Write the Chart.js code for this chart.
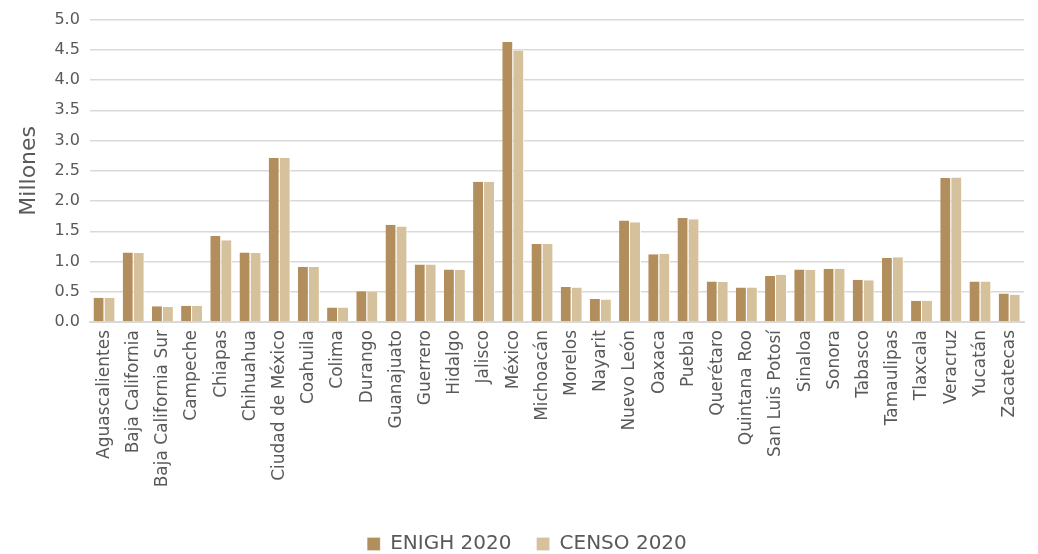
<!DOCTYPE html>
<html>
<head>
<meta charset="utf-8">
<script src="https://cdn.jsdelivr.net/npm/chart.js@4.4.0/dist/chart.umd.min.js"></script>
<style>
  html, body { margin: 0; padding: 0; background: #fff; }
  #wrap { width: 1038px; height: 554px; }
</style>
</head>
<body>
<div id="wrap"><canvas id="myChart"></canvas></div>
<script>
// hogares por entidad, millones
const estados = ['Aguascalientes', 'Baja California', 'Baja California Sur', 'Campeche', 'Chiapas',
  'Chihuahua', 'Ciudad de México', 'Coahuila', 'Colima', 'Durango', 'Guanajuato', 'Guerrero',
  'Hidalgo', 'Jalisco', 'México', 'Michoacán', 'Morelos', 'Nayarit', 'Nuevo León', 'Oaxaca',
  'Puebla', 'Querétaro', 'Quintana Roo', 'San Luis Potosí', 'Sinaloa', 'Sonora', 'Tabasco',
  'Tamaulipas', 'Tlaxcala', 'Veracruz', 'Yucatán', 'Zacatecas'];

const enigh2020 = [0.40, 1.15, 0.26, 0.27, 1.42, 1.15, 2.71, 0.91, 0.24, 0.51, 1.61, 0.95,
  0.87, 2.32, 4.63, 1.29, 0.58, 0.38, 1.68, 1.12, 1.72, 0.67, 0.57, 0.76, 0.87, 0.88, 0.70,
  1.06, 0.35, 2.38, 0.67, 0.47];

const censo2020 = [0.40, 1.14, 0.25, 0.27, 1.35, 1.14, 2.71, 0.91, 0.24, 0.50, 1.58, 0.95,
  0.86, 2.32, 4.49, 1.29, 0.57, 0.37, 1.65, 1.13, 1.70, 0.66, 0.57, 0.78, 0.86, 0.88, 0.69,
  1.07, 0.35, 2.39, 0.67, 0.45];

const yTicks = [0, 0.5, 1, 1.5, 2, 2.5, 3, 3.5, 4, 4.5, 5];

const fontFam = 'DejaVu Sans';
const gris = '#595959';

const ctx = document.getElementById('myChart').getContext('2d');
const chart = new Chart(ctx, {
  type: 'bar',
  data: {
    labels: estados,
    datasets: [{
      label: 'ENIGH 2020',
      data: enigh2020,
      backgroundColor: '#B38E5D',
      borderColor: '#ffffff',
      borderWidth: { left: 0, right: 1, top: 0, bottom: 0 },
      borderSkipped: false,
      categoryPercentage: 0.75,
      barPercentage: 1.0
    }, {
      label: 'CENSO 2020',
      data: censo2020,
      backgroundColor: '#D5C19B',
      borderColor: '#ffffff',
      borderWidth: { left: 0, right: 1, top: 0, bottom: 0 },
      borderSkipped: false,
      categoryPercentage: 0.75,
      barPercentage: 1.0
    }]
  },
  options: {
    responsive: true,
    maintainAspectRatio: false,
    animation: false,
    layout: { padding: { left: 16, right: 0, top: 12, bottom: -10 } },
    plugins: {
      tooltip: { enabled: false },
      legend: {
        position: 'bottom',
        labels: {
          color: gris,
          font: { family: fontFam, size: 20 },
          boxWidth: 13,
          boxHeight: 13,
          padding: 6,
          // un poco más de espacio entre las dos entradas
          generateLabels: (c) => {
            const items = Chart.defaults.plugins.legend.labels.generateLabels(c);
            items.forEach((it, i) => {
              it.fontColor = gris;
              if (i === 0) it.text = it.text + '   ';
            });
            return items;
          }
        }
      }
    },
    scales: {
      x: {
        grid: { display: false, drawTicks: false },
        border: { color: '#d9d9d9', width: 2 },
        afterFit: (scale) => { scale.height = 206; },
        ticks: {
          color: gris,
          font: { family: fontFam, size: 17 },
          minRotation: 90,
          maxRotation: 90,
          autoSkip: false,
          padding: 8
        }
      },
      y: {
        min: 0,
        max: 5,
        afterBuildTicks: (axis) => { axis.ticks = yTicks.map(v => ({ value: v })); },
        grid: { color: '#d9d9d9', lineWidth: 1.5, drawTicks: false },
        border: { display: false },
        ticks: {
          color: gris,
          font: { family: fontFam, size: 16 },
          padding: 10,
          callback: (v) => v.toFixed(1)
        },
        title: {
          display: true,
          text: 'Millones',
          color: gris,
          font: { family: fontFam, size: 22 },
          padding: { top: 0, bottom: 2 }
        }
      }
    }
  }
});
</script>
</body>
</html>
